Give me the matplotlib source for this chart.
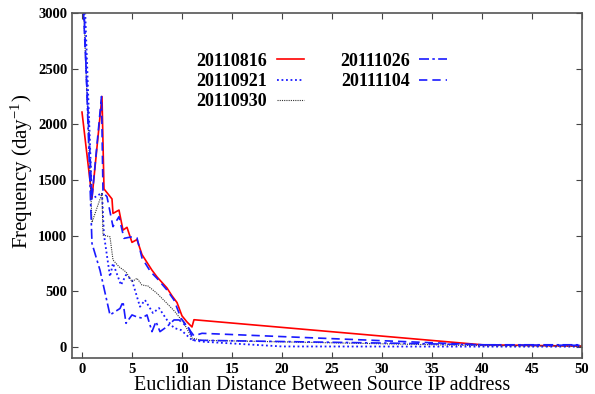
import matplotlib.pyplot as plt

# series
x_0816 = [0, 1, 2, 2.2, 3, 3.1, 3.7, 4.1, 4.5, 5, 5.5, 6, 6.5, 7, 7.5, 8, 8.5, 9, 9.5, 10, 10.5, 11, 11.2, 40, 50]
y_0816 = [2110, 1340, 2250, 1420, 1330, 1200, 1230, 1050, 1075, 940, 965, 830, 760, 690, 630, 580, 530, 460, 400, 280, 225, 180, 245, 20, 8]

x_0921 = [0, 1, 2, 2.2, 2.8, 3.1, 3.9, 4.4, 5, 5.8, 6.3, 7.1, 7.7, 8.5, 9.2, 9.9, 11, 12, 20, 50]
y_0921 = [3800, 1330, 1385, 1006, 632, 752, 557, 647, 600, 362, 422, 305, 350, 243, 171, 153, 63, 48, 5, 3]

x_0930 = [0, 1, 2, 2.1, 2.8, 3.1, 3.7, 4.4, 5, 5.5, 6, 6.6, 7.5, 8.5, 9.3, 10.2, 11, 12, 40, 50]
y_0930 = [3400, 1120, 1380, 1006, 990, 782, 721, 674, 587, 617, 557, 548, 482, 392, 317, 213, 80, 60, 12, 8]

x_1026 = [0, 1, 1.8, 2.8, 3.3, 3.8, 4.1, 4.4, 5, 5.5, 6, 6.5, 7, 7.4, 7.8, 8.5, 9.2, 9.7, 10.7, 11.1, 12, 32, 40, 50]
y_1026 = [3600, 930, 690, 288, 317, 346, 407, 213, 288, 270, 260, 288, 138, 228, 138, 183, 243, 243, 168, 63, 60, 33, 20, 20]

x_1104 = [0, 1, 1.95, 2.1, 2.5, 3.1, 3.7, 4.2, 5, 5.5, 6, 6.85, 7.5, 8.5, 9.2, 9.9, 11.2, 12, 40, 50]
y_1104 = [3300, 1340, 2250, 1390, 1350, 1081, 1171, 976, 990, 980, 800, 677, 617, 512, 422, 260, 100, 123, 20, 15]

x_ticks = [0, 5, 10, 15, 20, 25, 30, 35, 40, 45, 50]
y_ticks = [0, 500, 1000, 1500, 2000, 2500, 3000]

plt.rcParams['font.family'] = ['Liberation Serif', 'DejaVu Serif']
plt.rcParams['mathtext.fontset'] = 'stix'

fig = plt.figure(figsize=(5.95, 3.94), dpi=100)
ax = fig.add_axes([0.121, 0.091, 0.857, 0.876])

blue = '#1a1aff'
ax.plot(x_0816, y_0816, color='#ff0000', lw=1.2, label='20110816')
ax.plot(x_0921, y_0921, color=blue, lw=1.3, linestyle=(0, (1, 1.5)), label='20110921')
ax.plot(x_0930, y_0930, color='#333333', lw=0.8, linestyle=(0, (1, 1)), label='20110930')
ax.plot(x_1026, y_1026, color=blue, lw=1.2, linestyle=(0, (6, 2, 1.5, 2)), label='20111026')
ax.plot(x_1104, y_1104, color=blue, lw=1.2, linestyle=(0, (5, 3)), label='20111104')

ax.set_xlim(-1, 50)
ax.set_ylim(-100, 3000)
ax.set_xticks(x_ticks)
ax.set_yticks(y_ticks)
ax.tick_params(direction='in', length=4, top=True, right=True, labelsize=10.5, color='#444444')
for lab in ax.get_xticklabels() + ax.get_yticklabels():
    lab.set_fontweight('bold')
for s in ax.spines.values():
    s.set_color('#555555')
    s.set_linewidth(1.2)

ax.set_xlabel('Euclidian Distance Between Source IP address', fontsize=14.5, labelpad=0)
ax.xaxis.label.set_x(0.49)
ax.set_ylabel('Frequency (day$^{\\mathregular{-1}}$)', fontsize=15, labelpad=2)
ax.yaxis.label.set_y(0.54)

ax.legend(loc='upper left', bbox_to_anchor=(0.243, 0.885), ncol=2, frameon=False,
          markerfirst=False, prop={'weight': 'bold', 'size': 13}, borderpad=0,
          borderaxespad=0, handlelength=1.5, handletextpad=0.55, columnspacing=2.0,
          labelspacing=0.18)

fig.savefig('out.png', dpi=100)
